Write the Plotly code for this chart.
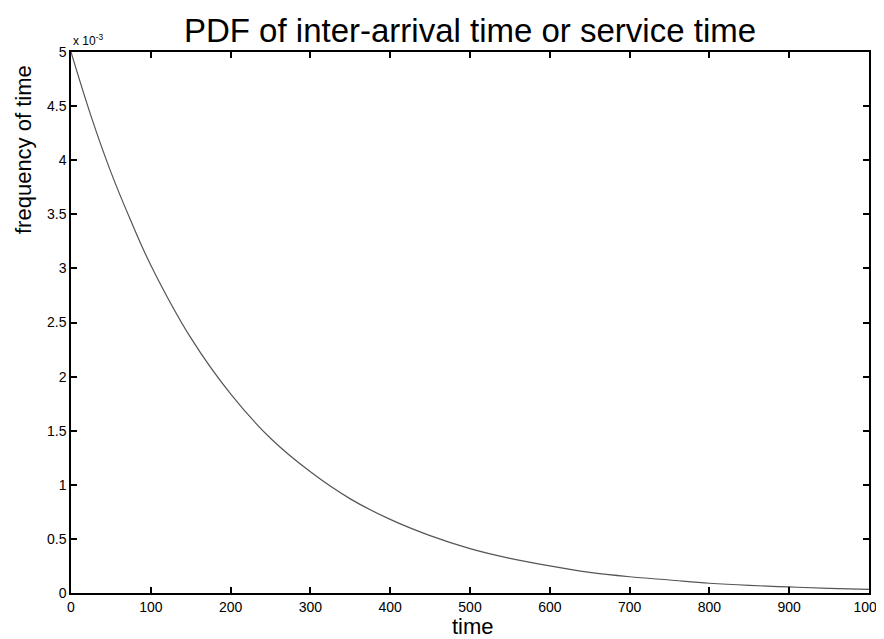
import plotly.graph_objects as go

# Values (y in units of 1e-3)
time_vals = [0, 25, 50, 75, 100, 150, 200, 250, 300, 350, 400, 450, 500,
             550, 600, 650, 700, 750, 800, 850, 900, 950, 1000]
freq_e3 = [5.00, 4.41, 3.89, 3.44, 3.03, 2.36, 1.84, 1.43, 1.12, 0.87, 0.68,
           0.53, 0.41, 0.32, 0.25, 0.19, 0.15, 0.12, 0.09, 0.07, 0.056, 0.043, 0.034]

x_ticks = [0, 100, 200, 300, 400, 500, 600, 700, 800, 900, 1000]
y_ticks = [0, 0.5, 1, 1.5, 2, 2.5, 3, 3.5, 4, 4.5, 5]
y_ticklabels = ["0", "0.5", "1", "1.5", "2", "2.5", "3", "3.5", "4", "4.5", "5"]

FONT = "Liberation Sans, Arial, sans-serif"
W, H = 876, 631  # page body has an 8px margin
L, R, T, B = 63, 15, 44, 46
PL, PR, PT, PB = 8 + L, 8 + W - R, 8 + T, 8 + H - B  # plot area in page pixels


def cx(x):  # container coords
    return (x - 8) / W


def cy(y):
    return 1 - (y - 8) / H


def ax(x):  # paper (plot-area) coords
    return (x - PL) / (PR - PL)


def ay(y):
    return (PB - y) / (PB - PT)


fig = go.Figure()
fig.add_trace(go.Scatter(
    x=time_vals, y=freq_e3, mode="lines",
    line=dict(color="#555555", width=1.2, shape="spline"),
    showlegend=False,
))

axis_common = dict(
    showgrid=False, zeroline=False, showline=True, linecolor="black",
    linewidth=1.5, mirror="ticks", ticks="inside", ticklen=6,
    tickcolor="black", tickwidth=1.5, automargin=False,
    ticklabeloverflow="allow",
    tickfont=dict(family=FONT, size=14, color="black"),
)

fig.update_layout(
    width=W, height=H,
    paper_bgcolor="white", plot_bgcolor="white",
    margin=dict(l=L, r=R, t=T, b=B, autoexpand=False),
    title=dict(text="PDF of inter-arrival time or service time",
               font=dict(family=FONT, size=33, color="black"),
               x=cx(470), xanchor="center", y=cy(30), yanchor="middle"),
    xaxis=dict(range=[0, 1000], tickvals=x_ticks, **axis_common),
    yaxis=dict(range=[0, 5], tickvals=y_ticks, ticktext=y_ticklabels, **axis_common),
    annotations=[
        dict(text="x 10<sup>-3</sup>", xref="paper", yref="paper",
             x=0.0, y=1.0, xanchor="left", yanchor="bottom",
             showarrow=False, font=dict(family=FONT, size=12, color="black"),
             xshift=0, yshift=2),
        dict(text="time", xref="paper", yref="paper",
             x=ax(473), y=ay(626), xanchor="center", yanchor="middle",
             showarrow=False, font=dict(family=FONT, size=22, color="black")),
        dict(text="frequency of time", xref="paper", yref="paper",
             x=ax(23), y=ay(150), xanchor="center", yanchor="middle",
             textangle=-90,
             showarrow=False, font=dict(family=FONT, size=22, color="black")),
    ],
)

fig.write_html("out.html")
